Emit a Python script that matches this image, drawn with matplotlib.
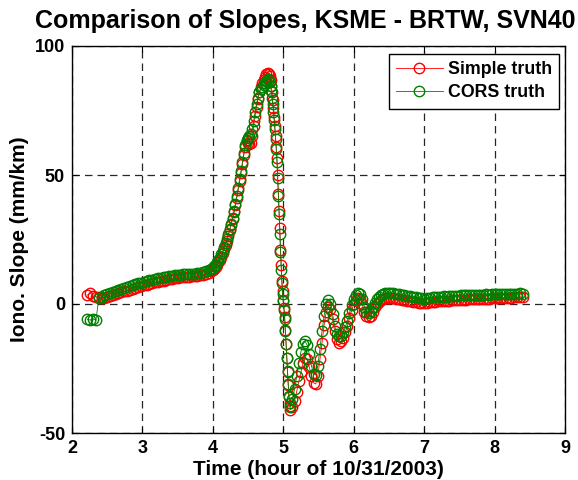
import matplotlib
matplotlib.use("Agg")
import matplotlib.pyplot as plt

# epochs (hour of 10/31/2003)
hours = [
    2.22, 2.26, 2.30, 2.34, 2.38, 2.42, 2.46, 2.50, 2.54, 2.58,
    2.62, 2.66, 2.70, 2.74, 2.78, 2.82, 2.86, 2.90, 2.94, 2.98,
    3.02, 3.06, 3.10, 3.14, 3.18, 3.22, 3.26, 3.30, 3.34, 3.38,
    3.42, 3.46, 3.50, 3.54, 3.58, 3.62, 3.66, 3.70, 3.74, 3.78,
    3.82, 3.86, 3.90, 3.94, 3.98,
    4.00, 4.02, 4.04, 4.06, 4.08, 4.10, 4.12, 4.14, 4.16, 4.18,
    4.20, 4.22, 4.24, 4.26, 4.28, 4.30, 4.32, 4.34, 4.36, 4.38,
    4.40, 4.42, 4.44, 4.46, 4.48, 4.50, 4.52, 4.54, 4.56, 4.58,
    4.60, 4.62, 4.64, 4.66, 4.68, 4.70, 4.72, 4.74, 4.76, 4.78,
    4.80,
    4.81, 4.82, 4.83, 4.84, 4.85, 4.86, 4.87, 4.88, 4.89, 4.90,
    4.91, 4.92, 4.93, 4.94, 4.95, 4.96, 4.97, 4.98, 4.99, 5.00,
    5.01, 5.02, 5.03, 5.04, 5.05, 5.06, 5.07, 5.08, 5.09, 5.10,
    5.13, 5.16, 5.19, 5.22, 5.25, 5.28, 5.31, 5.34, 5.37, 5.40,
    5.43, 5.46, 5.49, 5.52, 5.55, 5.58, 5.61, 5.64, 5.67, 5.70,
    5.73, 5.76, 5.79, 5.82, 5.85, 5.88, 5.91, 5.94, 5.97, 6.00,
    6.03, 6.06, 6.09, 6.12, 6.15, 6.18, 6.21, 6.24, 6.27, 6.30,
    6.33, 6.36, 6.39, 6.42, 6.45, 6.48,
    6.52, 6.56, 6.60, 6.64, 6.68, 6.72, 6.76, 6.80, 6.84, 6.88,
    6.92, 6.96, 7.00, 7.04, 7.08, 7.12, 7.16, 7.20, 7.24, 7.28,
    7.32, 7.36, 7.40, 7.44, 7.48, 7.52, 7.56, 7.60, 7.64, 7.68,
    7.72, 7.76, 7.80, 7.84, 7.88, 7.92, 7.96, 8.00, 8.04, 8.08,
    8.12, 8.16, 8.20, 8.24, 8.28, 8.32, 8.36, 8.40,
]

# iono slope, simple truth (mm/km)
simple_truth = [
    3.5, 4.2, 3.0, 2.8, 2.6, 2.2, 2.5, 2.8, 3.0, 3.3,
    3.7, 4.1, 4.5, 4.9, 5.2, 5.6, 6.0, 6.3, 6.6, 6.9,
    7.2, 7.5, 7.8, 8.1, 8.4, 8.6, 8.9, 9.1, 9.4, 9.6,
    9.8, 10.0, 10.2, 10.3, 10.4, 10.5, 10.6, 10.7, 10.8, 11.0,
    11.2, 11.4, 11.7, 12.1, 12.6,
    13.0, 13.6, 14.4, 15.2, 16.2, 17.2, 18.4, 19.8, 21.3, 22.9,
    24.6, 26.5, 28.5, 30.6, 33.0, 35.5, 38.2, 41.2, 44.3, 47.6,
    50.8, 54.2, 57.8, 61.0, 63.0, 62.5, 62.0, 62.5, 65.0, 69.0,
    73.0, 76.5, 79.5, 82.0, 84.0, 85.5, 86.8, 88.0, 89.0, 89.5,
    89.3,
    88.5, 87.0, 84.5, 82.0, 79.0, 76.0, 72.5, 69.0, 65.0, 61.0,
    56.5, 50.0, 42.5, 36.0, 29.5, 21.0, 15.0, 9.0, 5.0, 1.5,
    -1.5, -5.0, -10.0, -15.5, -21.0, -26.5, -31.5, -36.0, -39.5, -41.0,
    -40.0, -37.5, -34.0, -30.0, -26.5, -23.0, -21.0, -21.5, -24.5, -28.0,
    -30.5, -31.0, -28.0, -21.5, -15.0, -8.0, -3.0, -1.0, -2.0, -6.0,
    -10.5, -13.5, -15.0, -14.5, -13.0, -11.0, -8.5, -5.5, -2.5, 0.0,
    1.5, 2.2, 2.0, 0.0, -3.0, -4.8, -5.0, -4.5, -3.0, -1.2,
    0.0, 0.8, 1.5, 2.0, 2.3, 2.5,
    2.4, 2.2, 2.0, 1.8, 1.6, 1.4, 1.2, 1.1, 0.9, 0.7,
    0.5, 0.4, 0.3, 0.5, 0.7, 0.8, 0.9, 1.0, 1.1, 1.2,
    1.2, 1.3, 1.4, 1.4, 1.5, 1.6, 1.6, 1.7, 1.8, 1.8,
    1.9, 1.9, 2.0, 2.0, 2.1, 2.1, 2.2, 2.2, 2.3, 2.3,
    2.4, 2.4, 2.5, 2.5, 2.6, 2.6, 2.7, 2.7,
]

# iono slope, CORS truth (mm/km)
cors_truth = [
    -6.0, -6.2, -5.8, -6.3, 2.2, 2.8, 3.4, 3.8, 4.2, 4.5,
    4.9, 5.4, 5.8, 6.1, 6.5, 6.9, 7.3, 7.6, 8.0, 8.3,
    8.6, 8.9, 9.2, 9.4, 9.7, 9.9, 10.2, 10.4, 10.6, 10.8,
    11.0, 11.1, 11.3, 11.4, 11.5, 11.6, 11.6, 11.7, 11.8, 12.0,
    12.2, 12.4, 12.7, 13.1, 13.6,
    14.0, 14.6, 15.3, 16.1, 17.0, 18.0, 19.2, 20.5, 22.0, 23.5,
    25.2, 27.0, 29.0, 31.2, 33.5, 36.0, 38.8, 41.8, 45.0, 48.3,
    51.5, 55.0, 58.5, 61.5, 63.5, 64.5, 65.0, 66.0, 68.0, 71.0,
    74.5, 77.5, 80.0, 82.0, 83.3, 84.2, 85.0, 85.8, 86.5, 87.2,
    87.0,
    86.0, 84.5, 82.5, 80.0, 77.5, 74.5, 71.5, 68.0, 64.0, 60.0,
    55.0, 49.0, 42.0, 35.0, 27.0, 20.0, 13.0, 8.0, 4.0, 1.0,
    -2.5, -6.0, -10.5, -15.5, -21.0, -26.0, -31.0, -35.5, -38.5, -40.0,
    -37.0, -33.0, -28.0, -23.0, -18.5, -15.5, -14.5, -16.0, -19.5, -24.0,
    -27.0, -27.5, -24.0, -17.5, -10.5, -4.5, 0.0, 1.5, 0.0, -4.0,
    -8.5, -11.5, -12.5, -12.5, -11.0, -9.0, -6.5, -3.5, -0.5, 2.0,
    3.5, 4.2, 4.0, 2.0, -1.0, -3.0, -3.5, -2.8, -1.2, 0.5,
    1.8, 2.8, 3.5, 4.0, 4.3, 4.4,
    4.3, 4.1, 3.9, 3.7, 3.5, 3.3, 3.1, 3.0, 2.8, 2.6,
    2.4, 2.2, 2.1, 2.3, 2.5, 2.6, 2.7, 2.8, 2.9, 3.0,
    2.9, 3.0, 3.1, 3.2, 3.1, 3.3, 3.4, 3.3, 3.5, 3.4,
    3.5, 3.6, 3.5, 3.6, 3.7, 3.6, 3.7, 3.8, 3.7, 3.8,
    3.9, 3.8, 3.9, 4.0, 3.9, 4.0, 4.1, 4.0,
]

plt.rcParams['font.family'] = ['Liberation Sans', 'DejaVu Sans']
plt.rcParams['font.weight'] = 'bold'
plt.rcParams['axes.unicode_minus'] = False

fig = plt.figure(figsize=(5.78, 4.8), dpi=100)
ax = fig.add_axes([72 / 578, 1 - 433 / 480, 493 / 578, 387 / 480])

ax.plot(hours, simple_truth, '-o', color='#ff0000', lw=0.6, ms=7.5,
        mfc='none', mew=1.0, label='Simple truth')
ax.plot(hours, cors_truth, '-o', color='#008000', lw=0.6, ms=7.5,
        mfc='none', mew=1.0, label='CORS truth')

ax.set_xlim(2, 9)
ax.set_ylim(-50, 100)
ax.set_xticks(range(2, 10))
ax.set_yticks([-50, 0, 50, 100])
ax.grid(True, color='0.15', linestyle=(0, (6, 4)), linewidth=0.9)
ax.tick_params(direction='in', top=True, right=True, length=4, width=0.8,
               labelsize=13, pad=5)
for lbl in ax.get_xticklabels() + ax.get_yticklabels():
    lbl.set_fontweight('bold')
for sp in ax.spines.values():
    sp.set_linewidth(1.0)

ax.set_xlabel('Time (hour of 10/31/2003)', fontsize=15, fontweight='bold', labelpad=2)
ax.set_ylabel('Iono. Slope (mm/km)', fontsize=15, fontweight='bold', labelpad=4)
fig.text(305 / 578, 1 - 28 / 480, 'Comparison of Slopes, KSME - BRTW, SVN40',
         fontsize=18, fontweight='bold', ha='center', va='baseline')

leg = ax.legend(loc='upper right', bbox_to_anchor=(0.988, 0.979), borderaxespad=0,
                handlelength=2.6, handletextpad=0.3, labelspacing=0.35,
                borderpad=0.4, fancybox=False, framealpha=1,
                edgecolor='black', prop={'weight': 'bold', 'size': 12.8})
leg.get_frame().set_linewidth(1.0)

fig.savefig('out.png', dpi=100)
